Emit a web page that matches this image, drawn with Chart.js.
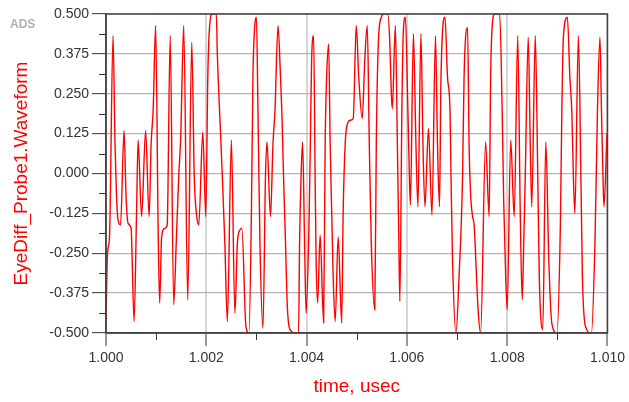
<!DOCTYPE html>
<html>
<head>
<meta charset="utf-8">
<script src="https://cdn.jsdelivr.net/npm/chart.js@4.4.0/dist/chart.umd.min.js"></script>
<style>
  html, body { margin: 0; padding: 0; background: #fff; }
  #wrap { width: 629px; height: 402px; }
</style>
</head>
<body>
<div id="wrap"><canvas id="eye" width="629" height="402"></canvas></div>
<script>
// time axis (usec) and probe waveform
var timeUs = [
  1.00000, 1.00003, 1.00007, 1.00014, 1.00018, 1.00021, 1.00024, 1.00029, 1.00036, 1.00040,
  1.00044, 1.00050, 1.00056, 1.00061, 1.00064, 1.00071, 1.00079, 1.00086, 1.00090, 1.00094,
  1.00099, 1.00104, 1.00107, 1.00111, 1.00117, 1.00122, 1.00128, 1.00135, 1.00140, 1.00145,
  1.00149, 1.00155, 1.00163, 1.00171, 1.00176, 1.00181, 1.00185, 1.00193, 1.00199, 1.00203,
  1.00206, 1.00212, 1.00220, 1.00222, 1.00227, 1.00232, 1.00237, 1.00242, 1.00250, 1.00257,
  1.00262, 1.00267, 1.00271, 1.00279, 1.00285, 1.00290, 1.00293, 1.00297, 1.00300, 1.00303,
  1.00307, 1.00313, 1.00318, 1.00321, 1.00328, 1.00333, 1.00337, 1.00343, 1.00348, 1.00351,
  1.00354, 1.00358, 1.00361, 1.00364, 1.00370, 1.00376, 1.00384, 1.00386, 1.00389, 1.00392,
  1.00396, 1.00399, 1.00404, 1.00407, 1.00410, 1.00414, 1.00417, 1.00419, 1.00422, 1.00427,
  1.00434, 1.00437, 1.00440, 1.00444, 1.00447, 1.00450, 1.00453, 1.00457, 1.00463, 1.00470,
  1.00473, 1.00477, 1.00480, 1.00487, 1.00493, 1.00499, 1.00504, 1.00511, 1.00516, 1.00521,
  1.00525, 1.00529, 1.00536, 1.00539, 1.00543, 1.00549, 1.00554, 1.00562, 1.00566, 1.00569,
  1.00571, 1.00577, 1.00581, 1.00584, 1.00586, 1.00590, 1.00593, 1.00597, 1.00602, 1.00605,
  1.00607, 1.00613, 1.00618, 1.00622, 1.00628, 1.00632, 1.00636, 1.00643, 1.00650, 1.00657,
  1.00661, 1.00665, 1.00668, 1.00676, 1.00681, 1.00686, 1.00688, 1.00691, 1.00698, 1.00704,
  1.00711, 1.00714, 1.00721, 1.00724, 1.00727, 1.00731, 1.00734, 1.00742, 1.00747, 1.00757,
  1.00764, 1.00767, 1.00770, 1.00775, 1.00785, 1.00790, 1.00793, 1.00797, 1.00800, 1.00807,
  1.00814, 1.00821, 1.00826, 1.00830, 1.00833, 1.00836, 1.00842, 1.00846, 1.00849, 1.00856,
  1.00861, 1.00864, 1.00871, 1.00877, 1.00883, 1.00889, 1.00899, 1.00906, 1.00909, 1.00912,
  1.00920, 1.00925, 1.00929, 1.00932, 1.00935, 1.00942, 1.00947, 1.00950, 1.00956, 1.00968,
  1.00975, 1.00980, 1.00985, 1.00988, 1.00991, 1.00993, 1.00999
];
var waveform = [
  -0.458, -0.250, -0.198, 0.432, 0.094, -0.073, -0.146, -0.161, 0.135, -0.073,
  -0.156, -0.172, -0.464, -0.115, 0.104, -0.135, 0.135, -0.135, 0.094, 0.198,
  0.464, -0.177, -0.406, -0.198, -0.172, -0.161, 0.432, -0.411, -0.219, -0.010,
  0.115, 0.464, -0.396, 0.411, -0.010, -0.135, -0.161, 0.130, -0.135, 0.302,
  0.448, 0.500, 0.500, 0.375, 0.177, -0.010, -0.219, -0.464, 0.104, -0.438,
  -0.219, -0.177, -0.172, -0.479, -0.500, -0.115, 0.302, 0.469, 0.490, 0.198,
  -0.219, -0.484, -0.010, 0.099, -0.135, 0.094, 0.198, 0.464, 0.302, 0.177,
  -0.010, -0.219, -0.396, -0.469, -0.495, -0.500, -0.500, -0.219, -0.010, 0.099,
  -0.219, -0.438, -0.219, 0.042, 0.354, 0.432, -0.010, -0.271, -0.406, -0.193,
  -0.469, 0.094, 0.302, 0.406, 0.094, -0.115, -0.323, -0.464, -0.198, -0.469,
  -0.115, 0.094, 0.146, 0.167, 0.172, 0.464, 0.302, 0.172, 0.354, 0.464,
  0.094, -0.219, -0.427, 0.094, 0.406, 0.490, 0.500, 0.500, 0.406, 0.250,
  0.203, 0.464, 0.094, -0.219, -0.401, 0.198, 0.448, 0.490, 0.198, -0.010,
  -0.099, 0.438, 0.094, -0.104, 0.438, 0.094, -0.104, 0.141, -0.130, 0.432,
  0.094, -0.104, 0.302, 0.490, 0.302, 0.198, -0.010, -0.271, -0.500, -0.323,
  -0.010, 0.302, 0.458, 0.094, -0.063, -0.135, -0.161, -0.427, -0.500, 0.099,
  -0.135, 0.302, 0.458, 0.500, 0.500, 0.198, -0.083, -0.323, -0.427, 0.104,
  -0.135, 0.432, -0.115, -0.396, -0.219, -0.010, 0.427, 0.094, -0.104, 0.432,
  -0.010, -0.323, -0.490, 0.099, -0.271, -0.469, -0.500, -0.167, 0.198, 0.427,
  0.490, 0.302, 0.188, -0.010, -0.125, 0.432, -0.010, -0.323, -0.479, -0.500,
  -0.219, 0.198, 0.427, 0.198, -0.010, -0.104, 0.125
];

var xTicks = [1.000, 1.002, 1.004, 1.006, 1.008, 1.010];
var yTicks = [-0.500, -0.375, -0.250, -0.125, 0.000, 0.125, 0.250, 0.375, 0.500];

// minor tick marks sit half way between the labelled ones
function midpoints(arr) {
  var out = [];
  for (var i = 0; i < arr.length - 1; i++) out.push((arr[i] + arr[i + 1]) / 2);
  return out;
}
var minorX = midpoints(xTicks);
var minorY = midpoints(yTicks);

var points = timeUs.map(function (t, i) { return { x: t, y: waveform[i] }; });

var frame = {
  id: 'frame',
  afterDraw: function (chart) {
    var ctx = chart.ctx, a = chart.chartArea;
    var xs = chart.scales.x, ys = chart.scales.y;
    ctx.save();
    ctx.strokeStyle = '#333';
    ctx.lineWidth = 1;
    ctx.beginPath();
    minorX.forEach(function (v) {
      var px = Math.round(xs.getPixelForValue(v)) + 0.5;
      ctx.moveTo(px, a.bottom);
      ctx.lineTo(px, a.bottom + 7);
    });
    minorY.forEach(function (v) {
      var py = Math.round(ys.getPixelForValue(v)) + 0.5;
      ctx.moveTo(a.left, py);
      ctx.lineTo(a.left - 7, py);
    });
    ctx.stroke();
    // plot box
    ctx.strokeStyle = '#444';
    ctx.lineWidth = 1.5;
    ctx.strokeRect(a.left, a.top, a.right - a.left, a.bottom - a.top);
    // little ADS tag in the corner
    ctx.fillStyle = '#b0b0b0';
    ctx.font = 'bold 12px "Liberation Sans", Arial, sans-serif';
    ctx.textBaseline = 'middle';
    ctx.fillText('ADS', 10, 25);
    ctx.restore();
  }
};

var tickFont = { family: '"Liberation Sans", Arial, sans-serif', size: 14 };
var titleFont = { family: '"Liberation Sans", Arial, sans-serif', size: 19 };

new Chart(document.getElementById('eye'), {
  type: 'line',
  data: {
    datasets: [{
      data: points,
      borderColor: '#ff0000',
      borderWidth: 1.4,
      pointRadius: 0,
      fill: false,
      cubicInterpolationMode: 'monotone'
    }]
  },
  options: {
    responsive: false,
    devicePixelRatio: 1,
    animation: false,
    parsing: false,
    layout: { padding: { left: 0, right: 18, top: 14, bottom: 0 } },
    plugins: { legend: { display: false }, tooltip: { enabled: false } },
    scales: {
      x: {
        type: 'linear',
        min: 1.000,
        max: 1.010,
        afterBuildTicks: function (scale) {
          scale.ticks = xTicks.map(function (v) { return { value: v }; });
        },
        afterFit: function (scale) { scale.height = 69; },
        ticks: {
          color: '#333',
          font: tickFont,
          padding: 4,
          maxRotation: 0,
          callback: function (v) { return Number(v).toFixed(3); }
        },
        grid: { color: '#d6d6d6', lineWidth: 2, tickColor: '#333', tickWidth: 1, tickLength: 13 },
        border: { display: true, color: '#444', width: 1.5 },
        title: { display: true, text: 'time, usec', color: '#ff0000', font: titleFont, padding: { top: 0, bottom: 4 } }
      },
      y: {
        type: 'linear',
        min: -0.5,
        max: 0.5,
        afterBuildTicks: function (scale) {
          scale.ticks = yTicks.map(function (v) { return { value: v }; });
        },
        afterFit: function (scale) { scale.width = 106; },
        ticks: {
          color: '#333',
          font: tickFont,
          padding: 3,
          callback: function (v) { return Number(v).toFixed(3); }
        },
        grid: { color: '#b4b4b4', lineWidth: 1.3, tickColor: '#333', tickWidth: 1, tickLength: 14 },
        border: { display: true, color: '#444', width: 1.5 },
        title: { display: true, text: 'EyeDiff_Probe1.Waveform', color: '#ff0000', font: titleFont, padding: { top: 10, bottom: 0 } }
      }
    }
  },
  plugins: [frame]
});
</script>
</body>
</html>
